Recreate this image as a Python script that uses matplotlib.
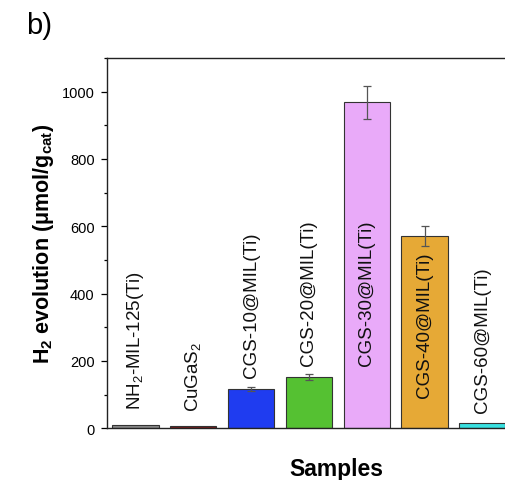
import matplotlib
matplotlib.use("Agg")
import matplotlib.pyplot as plt
from matplotlib.ticker import MultipleLocator

plt.rcParams['font.family'] = ['Liberation Sans', 'DejaVu Sans']
plt.rcParams['mathtext.fontset'] = 'custom'
plt.rcParams['mathtext.rm'] = 'Liberation Sans'
plt.rcParams['mathtext.it'] = 'Liberation Sans'
plt.rcParams['mathtext.bf'] = 'Liberation Sans:bold'

samples = ["NH$_2$-MIL-125(Ti)", "CuGaS$_2$", "CGS-10@MIL(Ti)", "CGS-20@MIL(Ti)",
           "CGS-30@MIL(Ti)", "CGS-40@MIL(Ti)", "CGS-60@MIL(Ti)"]
h2 = [9, 6, 117, 152, 968, 572, 17]
err = [0, 0, 7, 9, 48, 29, 0]
label_y = [57, 51, 153, 189, 189, 93, 48]
colors = ["#8a8a8a", "#7a1c1c", "#1f3cf0", "#55c132", "#e9aaf9", "#e6a936", "#38e0e0"]
yticks = [0, 200, 400, 600, 800, 1000]

fig = plt.figure(figsize=(5.05, 4.81), dpi=100)
ax = fig.add_axes([106.5/505, 51.7/481, 462/505, 370.3/481])

x = list(range(len(samples)))
ax.bar(x, h2, width=0.8, color=colors, edgecolor="#333333", linewidth=0.8, zorder=2)
for xi, v, e in zip(x, h2, err):
    if e > 0:
        ax.errorbar(xi, v, yerr=e, fmt='none', ecolor="#555555", elinewidth=0.9,
                    capsize=3.2, capthick=0.9, zorder=3)
for xi, ly, s in zip(x, label_y, samples):
    ax.text(xi, ly, s, rotation=90, ha='center', va='bottom', fontsize=13.5, color='#111111', zorder=4)

ax.set_xlim(-0.5, 7.49)
ax.set_ylim(0, 1100)
ax.set_xticks([])
ax.set_yticks(yticks)
ax.yaxis.set_minor_locator(MultipleLocator(100))
ax.tick_params(axis='y', which='major', direction='out', length=4.5, width=0.9, labelsize=10.5, pad=4)
ax.tick_params(axis='y', which='minor', direction='out', length=2.5, width=0.9)
ax.spines['right'].set_visible(False)
for s in ['left', 'top', 'bottom']:
    ax.spines[s].set_linewidth(1.0)
    ax.spines[s].set_color('#222222')

ax.set_ylabel("H$_\\mathbf{2}$ evolution (μmol/g$_\\mathbf{cat}$)", fontsize=15.5, fontweight='bold', labelpad=4)
fig.text(336/505, 1 - 470/481, "Samples", fontsize=16.5, fontweight='bold', ha='center', va='center')
fig.text(26/505, 1 - 26/481, "b)", fontsize=21, ha='left', va='center')

fig.savefig("out.png", dpi=100)
